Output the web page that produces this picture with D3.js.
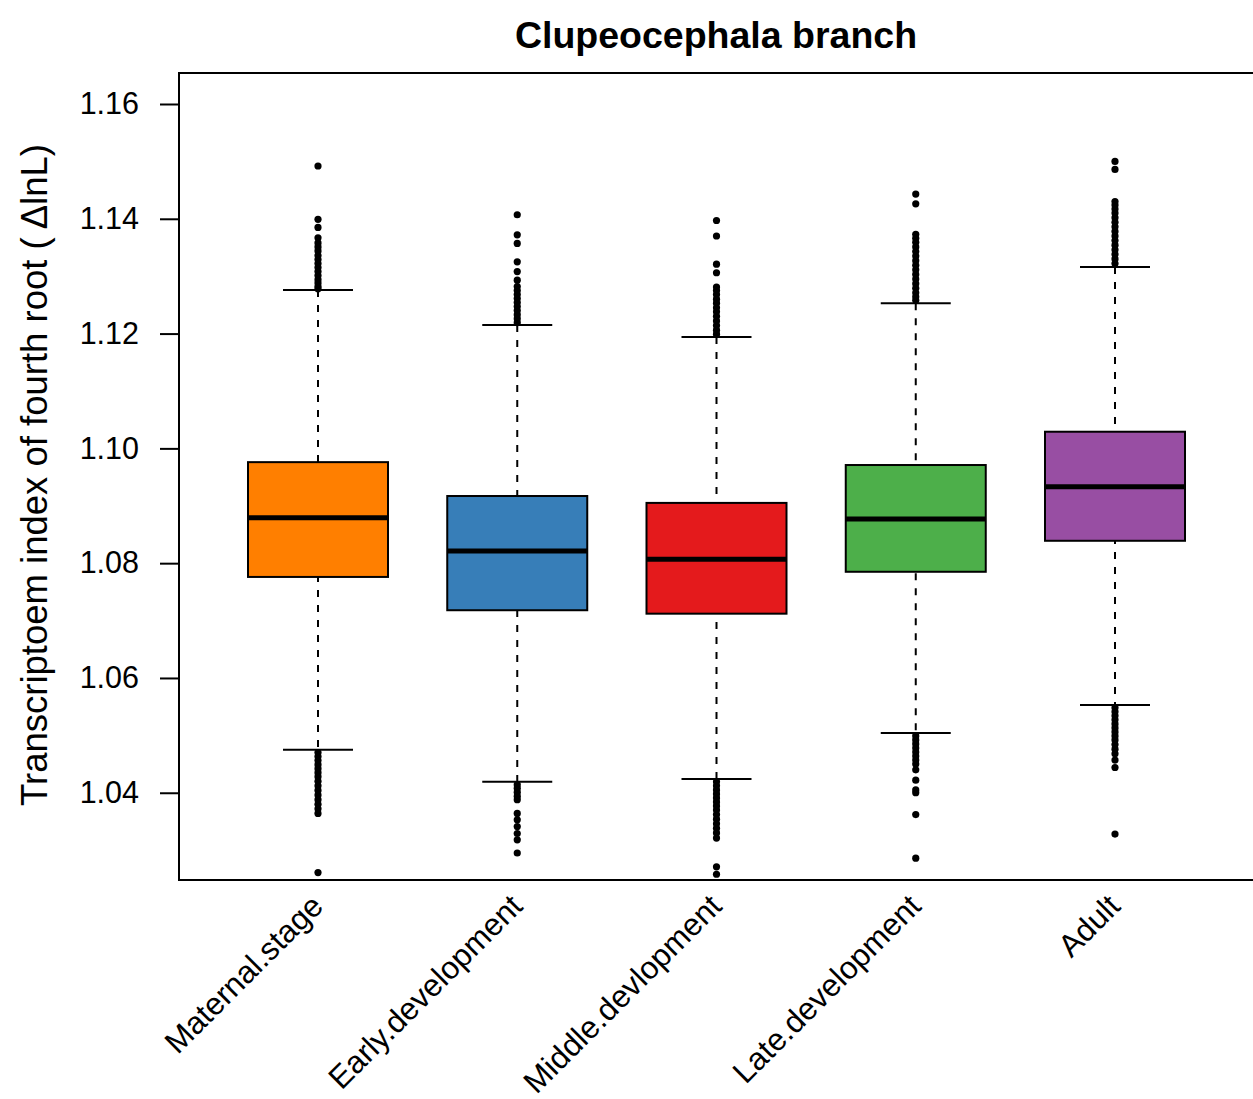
<!DOCTYPE html>
<html>
<head>
<meta charset="utf-8">
<script src="https://cdn.jsdelivr.net/npm/d3@7"></script>
<style>
  body { margin: 0; background: #fff; }
  text { font-family: "Liberation Sans", Arial, Helvetica, sans-serif; }
</style>
</head>
<body>
<div id="chart"></div>
<script>
// categories and box stats
var categories = ['Maternal.stage', 'Early.development', 'Middle.devlopment', 'Late.development', 'Adult'];
var colors = ['#FF7F00', '#377EB8', '#E41A1C', '#4DAF4A', '#984EA3'];
var lowerWhisker = [1.0475, 1.0419, 1.0424, 1.0504, 1.0553];
var q1 = [1.0776, 1.0718, 1.0712, 1.0785, 1.0839];
var medians = [1.0879, 1.0821, 1.0807, 1.0877, 1.0933];
var q3 = [1.0976, 1.0917, 1.0905, 1.0971, 1.1029];
var upperWhisker = [1.1276, 1.1215, 1.1194, 1.1253, 1.1316];
var yTicks = [1.04, 1.06, 1.08, 1.10, 1.12, 1.14, 1.16];

// outliers per group
var outliers = [
    [1.1492, 1.1399, 1.1385, 1.1367, 1.1358, 1.1351, 1.1344, 1.1336, 1.1329, 1.1322, 1.1315, 1.1308, 1.1301, 1.1294, 1.1288, 1.1282, 1.1278,
     1.0470, 1.0463, 1.0456, 1.0449, 1.0442, 1.0435, 1.0428, 1.0420, 1.0412, 1.0404, 1.0396, 1.0388, 1.0380, 1.0372, 1.0364, 1.0261],
    [1.1407, 1.1372, 1.1357, 1.1325, 1.1308, 1.1293, 1.1282, 1.1275, 1.1268, 1.1261, 1.1254, 1.1247, 1.1240, 1.1233, 1.1226, 1.1219,
     1.0414, 1.0408, 1.0401, 1.0394, 1.0388, 1.0364, 1.0353, 1.0341, 1.0329, 1.0318, 1.0295],
    [1.1397, 1.1370, 1.1321, 1.1306, 1.1281, 1.1275, 1.1268, 1.1260, 1.1253, 1.1245, 1.1238, 1.1230, 1.1222, 1.1214, 1.1206, 1.1199,
     1.0419, 1.0412, 1.0405, 1.0398, 1.0391, 1.0384, 1.0377, 1.0370, 1.0362, 1.0354, 1.0346, 1.0338, 1.0330, 1.0321, 1.0271, 1.0258],
    [1.1443, 1.1426, 1.1373, 1.1366, 1.1359, 1.1351, 1.1343, 1.1335, 1.1327, 1.1319, 1.1311, 1.1303, 1.1295, 1.1287, 1.1279, 1.1271, 1.1264, 1.1258,
     1.0499, 1.0492, 1.0485, 1.0478, 1.0471, 1.0464, 1.0457, 1.0450, 1.0440, 1.0422, 1.0405, 1.0400, 1.0362, 1.0286],
    [1.1500, 1.1486, 1.1430, 1.1424, 1.1417, 1.1410, 1.1402, 1.1394, 1.1386, 1.1378, 1.1370, 1.1362, 1.1354, 1.1346, 1.1338, 1.1330, 1.1322,
     1.0548, 1.0541, 1.0534, 1.0527, 1.0520, 1.0513, 1.0506, 1.0499, 1.0492, 1.0484, 1.0476, 1.0468, 1.0457, 1.0444, 1.0328]
];

var width = 1253, height = 1099;
var plot = {left: 179, top: 73, right: 1262, bottom: 880};
var boxW = 140, capW = 70;

var svg = d3.select('#chart').append('svg')
    .attr('width', width)
    .attr('height', height);

var x = d3.scalePoint()
    .domain(categories)
    .range([318, 1115]);

var y = d3.scaleLinear()
    .domain([1.0248, 1.1654])
    .range([plot.bottom, plot.top]);

// title
svg.append('text')
    .attr('x', 716)
    .attr('y', 48)
    .attr('text-anchor', 'middle')
    .style('font-size', '37.5px')
    .style('font-weight', 'bold')
    .text('Clupeocephala branch');

// frame (right side runs off the page)
svg.append('rect')
    .attr('x', plot.left)
    .attr('y', plot.top)
    .attr('width', plot.right - plot.left)
    .attr('height', plot.bottom - plot.top)
    .attr('fill', 'none')
    .attr('stroke', '#000')
    .attr('stroke-width', 2);

// y axis
var yAxis = d3.axisLeft(y)
    .tickValues(yTicks)
    .tickFormat(d3.format('.2f'))
    .tickSize(19)
    .tickPadding(21);
var gy = svg.append('g')
    .attr('transform', 'translate(' + plot.left + ',0)')
    .call(yAxis);
gy.select('.domain').remove();
gy.selectAll('.tick line').attr('stroke-width', 2);
gy.selectAll('.tick text')
    .style('font-size', '30.5px')
    .style('font-family', '"Liberation Sans", Arial, sans-serif')
    .attr('fill', '#000');

// y label
var yl = svg.append('text')
    .attr('transform', 'translate(47,475) rotate(-90)')
    .attr('text-anchor', 'middle')
    .style('font-size', '36.5px');
yl.append('tspan').text('Transcriptoem index of fourth root (');
yl.append('tspan').attr('dx', 8).text('ΔlnL)');

// boxes
var groups = svg.selectAll('g.box')
    .data(categories)
    .enter().append('g')
    .attr('class', 'box');

groups.append('line')
    .attr('x1', function (d) { return x(d); })
    .attr('x2', function (d) { return x(d); })
    .attr('y1', function (d, i) { return y(upperWhisker[i]); })
    .attr('y2', function (d, i) { return y(lowerWhisker[i]); })
    .attr('stroke', '#000')
    .attr('stroke-width', 2)
    .attr('stroke-dasharray', '7,8');

groups.selectAll('line.cap')
    .data(function (d, i) { return [{c: d, v: upperWhisker[i]}, {c: d, v: lowerWhisker[i]}]; })
    .enter().append('line')
    .attr('class', 'cap')
    .attr('x1', function (d) { return x(d.c) - capW / 2; })
    .attr('x2', function (d) { return x(d.c) + capW / 2; })
    .attr('y1', function (d) { return y(d.v); })
    .attr('y2', function (d) { return y(d.v); })
    .attr('stroke', '#000')
    .attr('stroke-width', 2);

groups.append('rect')
    .attr('x', function (d) { return x(d) - boxW / 2; })
    .attr('y', function (d, i) { return y(q3[i]); })
    .attr('width', boxW)
    .attr('height', function (d, i) { return y(q1[i]) - y(q3[i]); })
    .attr('fill', function (d, i) { return colors[i]; })
    .attr('stroke', '#000')
    .attr('stroke-width', 2);

groups.append('line')
    .attr('x1', function (d) { return x(d) - boxW / 2; })
    .attr('x2', function (d) { return x(d) + boxW / 2; })
    .attr('y1', function (d, i) { return y(medians[i]); })
    .attr('y2', function (d, i) { return y(medians[i]); })
    .attr('stroke', '#000')
    .attr('stroke-width', 5);

groups.selectAll('circle')
    .data(function (d, i) { return outliers[i].map(function (v) { return {c: d, v: v}; }); })
    .enter().append('circle')
    .attr('cx', function (d) { return x(d.c); })
    .attr('cy', function (d) { return y(d.v); })
    .attr('r', 3.6)
    .attr('fill', '#000');

// x labels, rotated 45 degrees
svg.selectAll('text.xlab')
    .data(categories)
    .enter().append('text')
    .attr('class', 'xlab')
    .attr('text-anchor', 'end')
    .attr('transform', function (d) { return 'translate(' + (x(d) + 7) + ',908) rotate(-45)'; })
    .style('font-size', '31.5px')
    .text(function (d) { return d; });
</script>
</body>
</html>
